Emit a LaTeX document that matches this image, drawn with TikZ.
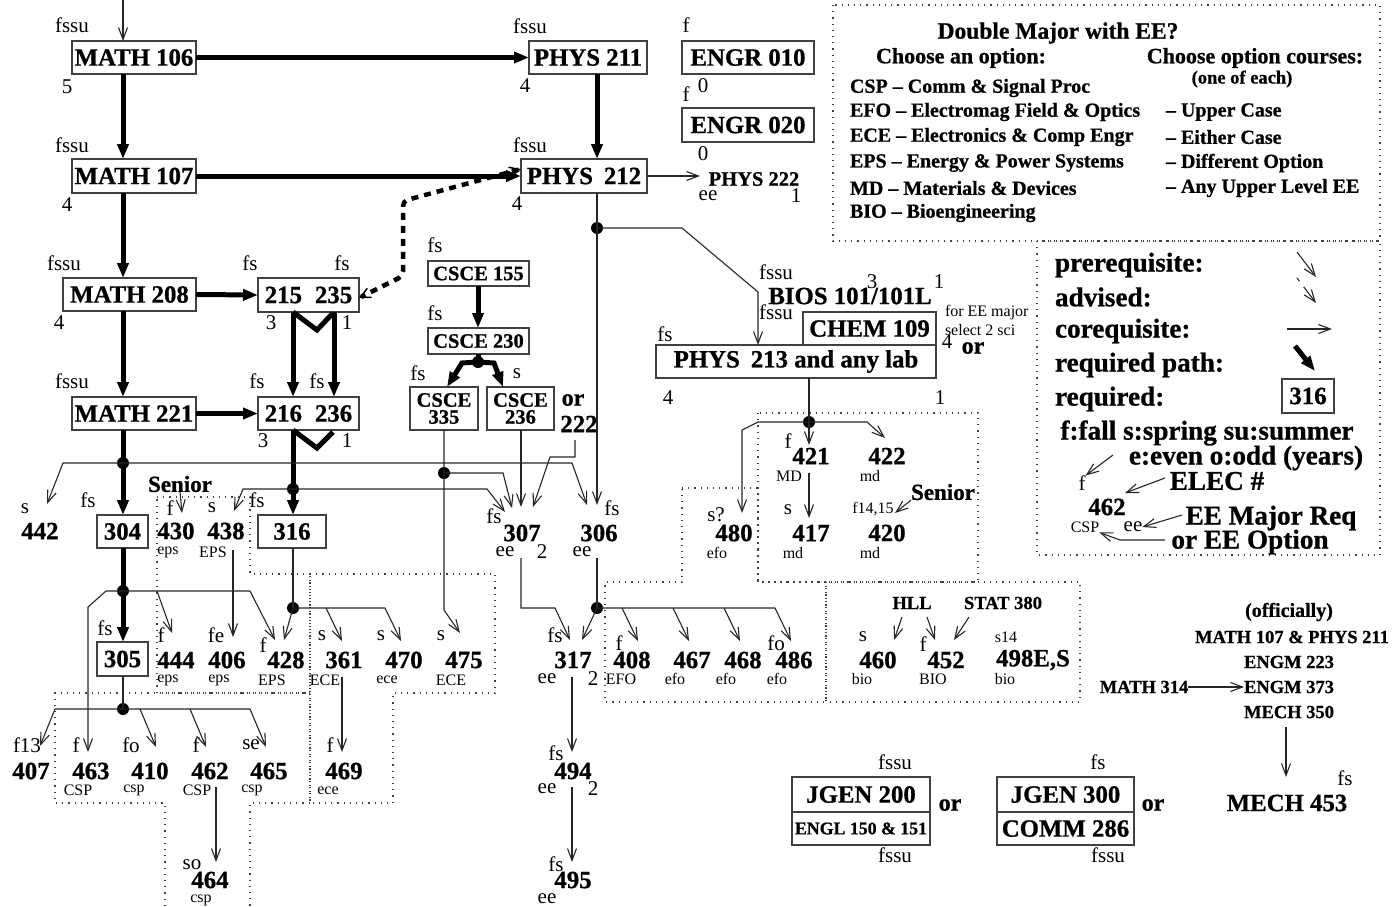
\documentclass[tikz,border=0pt]{standalone}
\usepackage{fontspec}
\setmainfont{Liberation Serif}[BoldFeatures={FakeBold=0.8}]
\newfontfamily\tms{Liberation Serif}
\usetikzlibrary{arrows.meta}
\newcommand\fCN{\fontsize{24.8}{24.8}\selectfont\bfseries}
\newcommand\fCS{\fontsize{20.5}{17}\selectfont\bfseries}
\newcommand\fBR{\fontsize{18.5}{18.5}\selectfont\bfseries}
\newcommand\fEN{\fontsize{17.8}{17.8}\selectfont\bfseries}
\newcommand\fSR{\fontsize{23}{23}\selectfont\bfseries}
\newcommand\fOR{\fontsize{24}{24}\selectfont\bfseries}
\newcommand\fLB{\tms\fontsize{21}{21}\selectfont}
\newcommand\fTL{\tms\fontsize{16}{16}\selectfont}
\newcommand\fLG{\fontsize{27.2}{27.2}\selectfont\bfseries}
\newcommand\fLT{\fontsize{20}{20}\selectfont\bfseries}
\newcommand\fLH{\fontsize{22}{22}\selectfont\bfseries}
\newcommand\fLD{\fontsize{23.5}{23.5}\selectfont\bfseries}
\begin{document}
\begin{tikzpicture}[x=1pt,y=-1pt,
  every node/.style={inner sep=0pt,outer sep=0pt},
  bx/.style={draw=black!75,line width=1.1pt,font=\fCN},
  cn/.style={font=\fCN},
  cs/.style={font=\fCS},
  brs/.style={font=\fBR},
  lb/.style={font=\fLB},
  tl/.style={font=\fTL},
  lg/.style={font=\fLG},
  lt/.style={font=\fLT},
  sen/.style={font=\fSR},
  orl/.style={font=\fOR},
  con/.style={draw=black!85,line width=1.1pt},
  pre/.style={con,-{Straight Barb[length=12pt,width=9pt]}},
  req/.style={draw=black,line width=5pt,-{Triangle[length=15pt,width=11pt]}},
  reqline/.style={draw=black,line width=5pt,line join=miter},
  adv/.style={draw=black,line width=4.5pt,dash pattern=on 7pt off 6pt,
     {Straight Barb[length=10pt,width=10pt,line width=1.5pt]}-{Straight Barb[length=10pt,width=10pt,line width=1.5pt]}},
  dot/.style={circle,fill=black,minimum size=12pt},
  grp/.style={draw=black!75,line width=1.2pt,dash pattern=on 1.2pt off 5pt},
]
\useasboundingbox (0,0) rectangle (1394,906);
\coordinate (mx) at (123,0);
\coordinate (px) at (597,0);
\coordinate (bl) at (293,0);
\coordinate (br) at (334,0);
\coordinate (cx) at (478,0);

% ---------- option groups and legend frames
\draw[grp] (157,497) -- (250,497) -- (250,574) -- (310,574) -- (310,693) -- (157,693) -- cycle;
\draw[grp] (165,906) -- (165,803) -- (55,803) -- (55,693) -- (310,693) -- (310,803) -- (250,803) -- (250,906);
\draw[grp] (310,574) -- (495,574) -- (495,693) -- (393,693) -- (393,803) -- (310,803) -- cycle;
\draw[grp] (682,488) -- (758,488) -- (758,582) -- (826,582) -- (826,702) -- (605,702) -- (605,582) -- (682,582) -- cycle;
\draw[grp] (758,413) rectangle (978,582);
\draw[grp] (826,582) rectangle (1080,702);
\draw[grp] (833,5) rectangle (1380,241);
\draw[grp] (1037,241) rectangle (1380,555);

% ---------- boxes
\node[bx,minimum width=124pt,minimum height=33pt] (m106) at (134,57.5) {MATH 106};
\node[bx,minimum width=124pt,minimum height=34pt] (m107) at (134,176) {MATH 107};
\node[bx,minimum width=133pt,minimum height=33pt] (m208) at (129.5,294.5) {MATH 208\hspace{7pt}};
\node[bx,minimum width=124pt,minimum height=33pt] (m221) at (134,413.5) {MATH 221};
\node[bx,minimum width=118pt,minimum height=33pt] (p211) at (588,57.5) {PHYS 211};
\node[bx,minimum width=126pt,minimum height=34pt] (p212) at (584,176) {PHYS\hspace{11pt}212};
\node[bx,minimum width=132pt,minimum height=33pt] (e010) at (748,57.5) {ENGR 010};
\node[bx,minimum width=132pt,minimum height=34pt] (e020) at (748,125) {ENGR 020};
\node[bx,minimum width=101pt,minimum height=34pt] (b215) at (308.5,295) {215\hspace{13pt}235};
\node[bx,minimum width=101pt,minimum height=33pt] (b216) at (308.5,413.5) {216\hspace{13pt}236};
\node[bx,minimum width=51pt,minimum height=33pt] (b304) at (122.5,531.5) {304};
\node[bx,minimum width=68pt,minimum height=33pt] (b316) at (292,531.5) {316};
\node[bx,minimum width=51pt,minimum height=34pt] (b305) at (122.5,659) {305};
\node[bx,font=\fCS,minimum width=101pt,minimum height=25pt] (c155) at (478.5,273.5) {CSCE 155};
\node[bx,font=\fCS,minimum width=101pt,minimum height=26pt] (c230) at (478.5,341) {CSCE 230};
\node[bx,font=\fCS,align=center,minimum width=68pt,minimum height=43pt] (c335) at (444,408.5) {CSCE\\335};
\node[bx,font=\fCS,align=center,minimum width=67pt,minimum height=43pt] (c236) at (520.5,408.5) {CSCE\\236};
\node[bx,minimum width=133pt,minimum height=33pt] (chem) at (869.5,328.5) {CHEM 109};
\node[bx,minimum width=280pt,minimum height=33pt] (p213) at (796,361.5) {PHYS\hspace{11pt}213 and any lab};
\node[bx,minimum width=138pt,minimum height=35pt] (jg2) at (861,794.5) {JGEN 200};
\node[bx,font=\fEN,minimum width=138pt,minimum height=33pt] (en1) at (861,828.5) {ENGL 150 \& 151};
\node[bx,minimum width=137pt,minimum height=35pt] (jg3) at (1065.5,794.5) {JGEN 300};
\node[bx,minimum width=137pt,minimum height=33pt] (cm2) at (1065.5,828.5) {COMM 286};
\node[bx,minimum width=52pt,minimum height=34pt] (k316) at (1308,396) {316};

% ---------- unboxed courses
\node[cs] (p222) at (754,179) {PHYS 222};
\node[cn] (n442) at (40,531) {442};
\node[cn] (n430) at (176,531) {430};
\node[cn] (n438) at (226,531) {438};
\node[cn] (n444) at (176,660) {444};
\node[cn] (n406) at (227,660) {406};
\node[cn] (n428) at (286,660) {428};
\node[cn] (n361) at (344,660) {361};
\node[cn] (n470) at (404,660) {470};
\node[cn] (n475) at (464,660) {475};
\node[cn] (n407) at (31,771) {407};
\node[cn] (n463) at (91,771) {463};
\node[cn] (n410) at (150,771) {410};
\node[cn] (n462) at (210,771) {462};
\node[cn] (n465) at (269,771) {465};
\node[cn] (n469) at (344,771) {469};
\node[cn] (n464) at (210,880) {464};
\node[cn] (n307) at (522,533) {307};
\node[cn] (n306) at (599,533) {306};
\node[cn] (n317) at (573,660) {317};
\node[cn] (n494) at (573,771) {494};
\node[cn] (n495) at (573,880) {495};
\node[cn] (bios) at (850,296) {BIOS 101/101L};
\node[cn] (n421) at (811,456) {421};
\node[cn] (n422) at (887,456) {422};
\node[cn] (n480) at (734,533) {480};
\node[cn] (n417) at (811,533) {417};
\node[cn] (n420) at (887,533) {420};
\node[cn] (n408) at (632,660) {408};
\node[cn] (n467) at (692,660) {467};
\node[cn] (n468) at (743,660) {468};
\node[cn] (n486) at (794,660) {486};
\node[cn] (n460) at (878,660) {460};
\node[cn] (n452) at (946,660) {452};
\node[cn] (n498) at (1033,660) {498E,S};
\node[cn] (m453) at (1287,803) {MECH 453};
\node[cn] (c222) at (579,424) {222};

% ---------- small labels
\node[lb] (a1) at (72,25) {fssu};
\node[lb] (a2) at (67,87) {5};
\node[lb] (a3) at (72,145) {fssu};
\node[lb] (a4) at (67,205) {4};
\node[lb] (a5) at (64,263) {fssu};
\node[lb] (a6) at (59,323) {4};
\node[lb] (a7) at (72,381) {fssu};
\node[lb] (a8) at (530,26) {fssu};
\node[lb] (a9) at (525,86) {4};
\node[lb] (a10) at (530,145) {fssu};
\node[lb] (a11) at (517,204) {4};
\node[lb] (a12) at (686,25) {f};
\node[lb] (a13) at (703,86) {0};
\node[lb] (a14) at (686,94) {f};
\node[lb] (a15) at (703,154) {0};
\node[lb] (a16) at (708,196) {ee};
\node[lb] (a17) at (796,196) {1};
\node[lb] (a18) at (250,263) {fs};
\node[lb] (a19) at (342,263) {fs};
\node[lb] (a20) at (271,323) {3};
\node[lb] (a21) at (347,323) {1};
\node[lb] (a22) at (257,381) {fs};
\node[lb] (a23) at (317,381) {fs};
\node[lb] (a24) at (263,441) {3};
\node[lb] (a25) at (347,441) {1};
\node[lb] (a26) at (25,509) {s};
\node[lb] (a27) at (88,500) {fs};
\node[sen] (sen1) at (180,484) {Senior};
\node[lb] (a28) at (170,508) {f};
\node[tl] (a29) at (168,552) {eps};
\node[lb] (a30) at (212,508) {s};
\node[tl] (a31) at (213,552) {EPS};
\node[lb] (a32) at (257,500) {fs};
\node[lb] (a33) at (161,635) {f};
\node[tl] (a34) at (168,680) {eps};
\node[lb] (a35) at (216,635) {fe};
\node[tl] (a36) at (219,680) {eps};
\node[lb] (a37) at (263,645) {f};
\node[tl] (a38) at (272,680) {EPS};
\node[lb] (a39) at (322,636) {s};
\node[tl] (a40) at (325,680) {ECE};
\node[lb] (a41) at (381,636) {s};
\node[tl] (a42) at (387,680) {ece};
\node[lb] (a43) at (441,636) {s};
\node[tl] (a44) at (451,680) {ECE};
\node[lb] (a45) at (105,628) {fs};
\node[lb] (a46) at (27,745) {f13};
\node[lb] (a47) at (76,745) {f};
\node[tl] (a48) at (78,790) {CSP};
\node[lb] (a49) at (131,745) {fo};
\node[tl] (a50) at (134,790) {csp};
\node[lb] (a51) at (196,745) {f};
\node[tl] (a52) at (197,790) {CSP};
\node[lb] (a53) at (251,745) {se};
\node[tl] (a54) at (252,790) {csp};
\node[lb] (a55) at (330,745) {f};
\node[tl] (a56) at (328,791) {ece};
\node[lb] (a57) at (192,865) {so};
\node[tl] (a58) at (201,900) {csp};
\node[lb] (a59) at (435,245) {fs};
\node[lb] (a60) at (435,313) {fs};
\node[lb] (a61) at (418,373) {fs};
\node[lb] (a62) at (517,374) {s};
\node[orl] (or1) at (573,400) {or};
\node[lb] (a63) at (494,516) {fs};
\node[lb] (a64) at (505,552) {ee};
\node[lb] (a65) at (542,552) {2};
\node[lb] (a66) at (612,508) {fs};
\node[lb] (a67) at (582,552) {ee};
\node[lb] (a68) at (555,635) {fs};
\node[lb] (a69) at (547,679) {ee};
\node[lb] (a70) at (593,679) {2};
\node[lb] (a71) at (556,753) {fs};
\node[lb] (a72) at (547,789) {ee};
\node[lb] (a73) at (593,789) {2};
\node[lb] (a74) at (556,864) {fs};
\node[lb] (a75) at (547,899) {ee};
\node[lb] (a76) at (776,272) {fssu};
\node[lb] (a77) at (872,282) {3};
\node[lb] (a78) at (939,282) {1};
\node[lb] (a79) at (776,312) {fssu};
\node[tl,anchor=west] (a80) at (945,313) {for EE major};
\node[tl,anchor=west] (a81) at (945,330) {select 2 sci};
\node[lb] (a82) at (947,342) {4};
\node[orl] (or2) at (973,348) {or};
\node[lb] (a83) at (665,334) {fs};
\node[lb] (a84) at (668,398) {4};
\node[lb] (a85) at (940,398) {1};
\node[lb] (a86) at (788,441) {f};
\node[tl] (a87) at (789,476) {MD};
\node[tl] (a88) at (870,476) {md};
\node[lb] (a89) at (716,515) {s?};
\node[tl] (a90) at (717,553) {efo};
\node[lb] (a91) at (788,510) {s};
\node[tl] (a92) at (793,553) {md};
\node[sen] (sen2) at (943,492) {Senior};
\node[tl] (a93) at (873,509) {f14,15};
\node[tl] (a94) at (870,553) {md};
\node[lb] (a95) at (619,643) {f};
\node[tl] (a96) at (621,679) {EFO};
\node[tl] (a97) at (675,679) {efo};
\node[tl] (a98) at (726,679) {efo};
\node[lb] (a99) at (776,643) {fo};
\node[tl] (a100) at (777,679) {efo};
\node[brs] (hll) at (912,603) {HLL};
\node[brs] (stat) at (1003,603) {STAT 380};
\node[lb] (a101) at (863,637) {s};
\node[tl] (a102) at (862,679) {bio};
\node[lb] (a103) at (923,644) {f};
\node[tl] (a104) at (933,679) {BIO};
\node[tl] (a105) at (1006,637) {s14};
\node[tl] (a106) at (1005,679) {bio};
\node[font=\fLT] (offi) at (1289,612) {(officially)};
\node[brs] (mp) at (1292,637) {MATH 107 \& PHYS 211};
\node[brs] (g223) at (1289,662) {ENGM 223};
\node[brs] (g373) at (1289,687) {ENGM 373};
\node[brs] (m350) at (1289,712) {MECH 350};
\node[brs] (m314) at (1144,687) {MATH 314};
\node[lb] (a107) at (1345,778) {fs};
\node[lb] (a108) at (895,762) {fssu};
\node[lb] (a109) at (895,855) {fssu};
\node[orl] (or3) at (950,805) {or};
\node[lb] (a110) at (1098,762) {fs};
\node[lb] (a111) at (1108,855) {fssu};
\node[orl] (or4) at (1153,805) {or};

% ---------- legend
\node[font=\fLD] (lh) at (1058,33) {Double Major with EE?};
\node[font=\fLH] (lh1) at (961,58) {Choose an option:};
\node[font=\fLH] (lh2) at (1255,58) {Choose option courses:};
\node[font=\fBR] (lh3) at (1242,79) {(one of each)};
\node[lt,anchor=west] (o1) at (850,88) {CSP -- Comm \& Signal Proc};
\node[lt,anchor=west] (o2) at (850,112) {EFO -- Electromag Field \& Optics};
\node[lt,anchor=west] (o3) at (850,137) {ECE -- Electronics \& Comp Engr};
\node[lt,anchor=west] (o4) at (850,163) {EPS -- Energy \& Power Systems};
\node[lt,anchor=west] (o5) at (850,188) {MD -- Materials \& Devices};
\node[lt,anchor=west] (o6) at (850,213) {BIO -- Bioengineering};
\node[lt,anchor=west] (r1) at (1166,112) {-- Upper Case};
\node[lt,anchor=west] (r2) at (1166,137) {-- Either Case};
\node[lt,anchor=west] (r3) at (1166,163) {-- Different Option};
\node[lt,anchor=west] (r4) at (1166,188) {-- Any Upper Level EE};
\node[lg,anchor=west] (k1) at (1055,265) {prerequisite:};
\node[lg,anchor=west] (k2) at (1055,297) {advised:};
\node[lg,anchor=west] (k3) at (1055,331) {corequisite:};
\node[lg,anchor=west] (k4) at (1055,365) {required path:};
\node[lg,anchor=west] (k5) at (1055,399) {required:};
\node[lg] (k6) at (1207,433) {f:fall s:spring su:summer};
\node[lg] (k7) at (1246,458) {e:even o:odd (years)};
\node[lg] (k8) at (1217,481) {ELEC \#};
\node[lg] (k9) at (1271,518) {EE Major Req};
\node[lg] (k10) at (1250,542) {or EE Option};
\node[lb] (k11) at (1082,483) {f};
\node[cn] (k12) at (1107,507) {462};
\node[tl] (k13) at (1085,527) {CSP};
\node[lb] (k14) at (1133,527) {ee};
\coordinate (q1) at (1297,252); \coordinate (q2) at (1316,277);
\draw[pre] (q1) -- (q2);
\coordinate (q3) at (1297,278); \coordinate (q4) at (1316,303);
\draw[pre,dash pattern=on 4pt off 7pt on 40pt] (q3) -- (q4);
\coordinate (q5) at (1287,329); \coordinate (q6) at (1332,329);
\draw[pre] (q5) -- (q6);
\coordinate (q7) at (1295,346); \coordinate (q8) at (1315,371);
\draw[req] (q7) -- (q8);
\draw[pre] (1113,455) -- (k11.north east);
\draw[pre] (1165,478) -- (1125,493);
\draw[pre] (1182,515) -- (k14.east);
\draw[pre] (1165,540) -- (1120,540) -- (k13.south east);

% ---------- required (thick) paths
\coordinate (in0) at (123,0);
\draw[pre] (in0) -- (m106.north -| mx);
\draw[req] (m106.south -| mx) -- (m107.north -| mx);
\draw[req] (m107.south -| mx) -- (m208.north -| mx);
\draw[req] (m208.south -| mx) -- (m221.north -| mx);
\draw[req] (m221.south -| mx) -- (b304.north -| mx);
\draw[req] (b304.south -| mx) -- (b305.north -| mx);
\draw[req] (m106.east) -- (p211.west);
\draw[req] (m107.east) -- (p212.west);
\draw[req] (p211.south -| px) -- (p212.north -| px);
\draw[req] (m208.east) -- (b215.west);
\draw[req] (m221.east) -- (b216.west);
\draw[req] (b215.south -| bl) -- (b216.north -| bl);
\draw[req] (b215.south -| br) -- (b216.north -| br);
\draw[reqline] (b215.south -| bl) -- (317,330) -- (333,313);
\draw[reqline] (b216.south -| bl) -- (317,448) -- (333,432);
\draw[req] (b216.south -| bl) -- (b316.north -| bl);
\draw[req] (c155.south -| cx) -- (c230.north -| cx);
\node[dot] (jc) at (478,362) {};
\draw[reqline] (c230.south -| cx) -- (jc.center);
\draw[req] (jc.center) -- (462,363) -- (447,387);
\draw[req] (jc.center) -- (494,363) -- (503,387);
\draw[adv,rounded corners=5pt] ([yshift=7pt]p212.west) -- (403,201) -- (403,276) -- ([yshift=-3pt]b215.east);

% ---------- dots
\node[dot] (j1) at (123,463) {};
\node[dot] (j2) at (123,591) {};
\node[dot] (j3) at (293,489) {};
\node[dot] (j4) at (123,709) {};
\node[dot] (j5) at (293,608) {};
\node[dot] (j7) at (444,473) {};
\node[dot] (j8) at (597,228) {};
\node[dot] (j9) at (597,608) {};
\node[dot] (j10) at (809,422) {};

% ---------- thin connectors
\draw[pre] (j1.center) -- (63,463) -- (47,504);
\draw[pre] (j1.center) -- (572,463) -- (587,505);
\draw[pre] (j2.center) -- (106,591) -- (88,607) -- (88,752);
\draw[pre] (j2.center) -- (250,591) -- (275,640);
\draw[pre] (157,591) -- (172,633);
\draw[pre] (j4.center) -- (55,709) -- (40,746);
\draw[pre] (j4.center) -- (250,709) -- (266,747);
\draw[pre] (140,709) -- (156,747);
\draw[pre] (190,709) -- (206,747);
\draw[con] (b305.south -| mx) -- (j4.center);
\draw[pre] (216,787) -- (216,862);
\draw[pre] (j3.center) -- (243,489) -- (234,511);
\draw[pre] (j3.center) -- (487,489) -- (505,512);
\draw[pre] (sen1.south) -- (182,513);
\draw[pre] (233,550) -- (233,637);
\draw[con] (b316.south -| bl) -- (j5.center);
\draw[pre] (j5.center) -- (284,640);
\draw[pre] (j5.center) -- (385,608) -- (401,641);
\draw[pre] (326,608) -- (342,641);
\draw[pre] (342,677) -- (342,752);
\draw[pre] (c335.south -| j7) -- (444,610) -- (460,633);
\draw[pre] (j7.center) -- (503,473) -- (512,508);
\draw[pre] (c236.south -| 521,0) -- (521,507);
\draw[pre] (575,440) -- (575,457) -- (550,457) -- (533,507);
\draw[pre] (p212.south -| px) -- (597,505);
\draw[pre] (j8.center) -- (682,228) -- (758,292) -- (p213.north -| 758,0);
\draw[pre] (p212.east) -- (700,176);
\draw[pre] (521,558) -- (521,608) -- (555,608) -- (570,640);
\draw[con] (597,558) -- (j9.center);
\draw[pre] (j9.center) -- (582,640);
\draw[pre] (j9.center) -- (775,608) -- (791,641);
\draw[pre] (622,608) -- (638,641);
\draw[pre] (673,608) -- (689,641);
\draw[pre] (724,608) -- (740,641);
\draw[pre] (572,677) -- (572,752);
\draw[pre] (572,787) -- (572,862);
\draw[con] (p213.south -| j10) -- (j10.center);
\draw[pre] (j10.center) -- (809,445);
\draw[pre] (j10.center) -- (758,422) -- (742,430) -- (742,513);
\draw[pre] (j10.center) -- (867,422) -- (885,438);
\draw[pre] (809,473) -- (809,518);
\draw[pre] (sen2.south west) -- (895,513);
\draw[pre] (902,617) -- (894,640);
\draw[pre] (927,617) -- (935,640);
\draw[pre] (969,617) -- (954,640);
\draw[pre] (m314.east) -- (g373.west);
\draw[pre] (1286,727) -- (1286,777);
\end{tikzpicture}
\end{document}
